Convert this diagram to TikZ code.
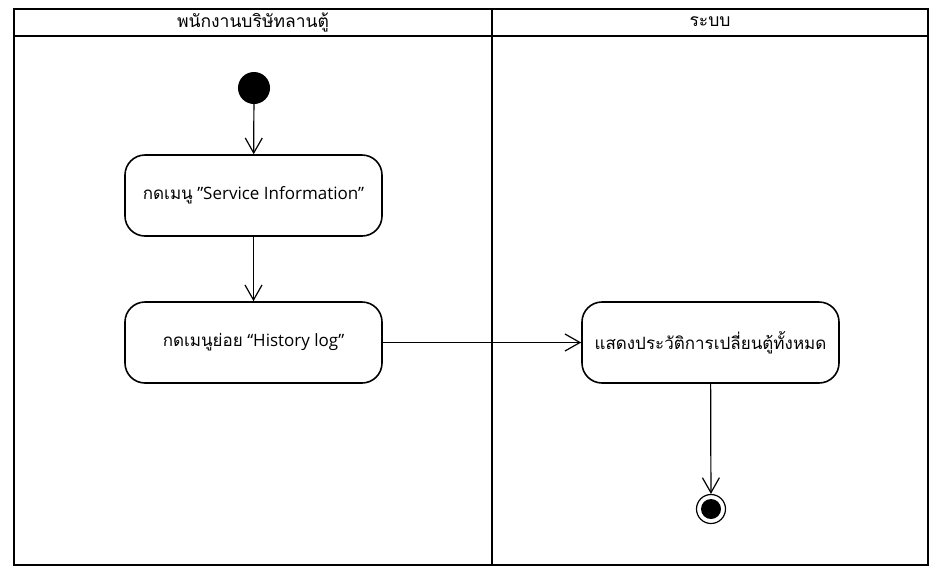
\documentclass[tikz,border=0pt]{standalone}
\usepackage{fontspec}
\setmainfont{Open Sans}
\newfontfamily\thaifont[Script=Thai]{Loma}
\usetikzlibrary{arrows.meta, positioning}

\begin{document}
\begin{tikzpicture}[x=1pt,y=-1pt,>={Straight Barb[length=15pt,width=17pt]}]
    % styles
    \tikzset{action/.style={draw,line width=1.6pt,rounded corners=20pt,minimum width=257pt,minimum height=81pt,inner sep=0pt,font=\fontsize{17}{19}\selectfont},
             flow/.style={->,line width=1.2pt},
             lane/.style={line width=2.6pt}}
    \useasboundingbox (0,0) rectangle (942,571);

    % swimlanes
    \draw[lane] (14,9) rectangle (928,565);
    \draw[lane] (14,36) -- (928,36);
    \draw[lane] (492,9) -- (492,565);
    \node[font=\thaifont\fontsize{17.5}{19}\selectfont] (LaneA) at (253,22) {พนักงานบริษัทลานตู้};
    \node[font=\thaifont\fontsize{17.5}{19}\selectfont] (LaneB) at (710,22) {ระบบ};

    % nodes
    \node[circle,fill,minimum size=32pt,inner sep=0pt] (Start) at (254,88) {};
    \node[action] (Menu)    at (253.5,195.5) {{\thaifont กดเมนู} \char34 Service Information\char34};
    \node[action] (History) at (253.5,342.5) {{\thaifont กดเมนูย่อย} “History log”};
    \node[action] (Show)    at (710.5,342.5) {\thaifont แสดงประวัติการเปลี่ยนตู้ทั้งหมด};
    \node[circle,draw,line width=1.2pt,minimum size=29pt,inner sep=0pt] (End) at (711,509) {};
    \node[circle,fill,minimum size=20pt,inner sep=0pt] (EndDot) at (End) {};

    % control flow
    \draw[flow] (Start) -- (Menu);
    \draw[flow] (Menu) -- (History);
    \draw[flow] (History) -- (Show);
    \draw[flow] (Show) -- (End);
\end{tikzpicture}
\end{document}
